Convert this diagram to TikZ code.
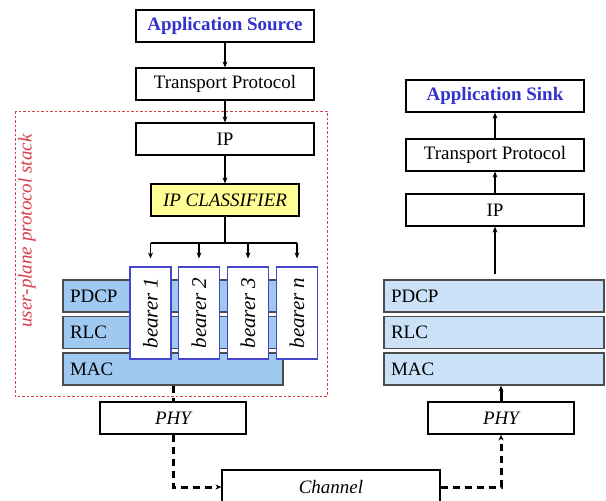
\documentclass[tikz,border=0pt]{standalone}
\usepackage{fontspec}
\setmainfont{Liberation Serif}
\usetikzlibrary{arrows.meta}
\definecolor{srcblue}{RGB}{51,51,204}
\definecolor{stackred}{RGB}{218,60,70}
\definecolor{layerdark}{RGB}{160,201,242}
\definecolor{layerlight}{RGB}{203,225,248}
\definecolor{clsyellow}{RGB}{255,255,150}
\definecolor{bearerblue}{RGB}{70,70,205}
\def\bH{32}
\begin{document}
\begin{tikzpicture}[x=1pt, y=-1pt, >={Stealth[length=6pt,width=5pt]},
    font=\fontsize{19pt}{22pt}\selectfont,
    box/.style={draw, line width=1.2pt, fill=white, minimum width=178pt, minimum height=\bH pt, inner sep=0pt},
    layer/.style={draw=black!70, line width=1.2pt, minimum height=\bH pt, text width=206pt, align=left, inner xsep=7pt, inner ysep=0pt},
    bearer/.style={draw=bearerblue, line width=1.2pt, fill=white, minimum width=92pt, minimum height=41pt, inner sep=0pt, rotate=90, font=\fontsize{21pt}{24pt}\selectfont\itshape},
    flow/.style={->, line width=1.3pt},
    air/.style={line width=3pt, dash pattern=on 7pt off 5pt}]
        \clip (0,0) rectangle (606,501);
        \fill[white] (0,0) rectangle (606,501);
        \draw[stackred, line width=1pt, dash pattern=on 2.5pt off 2pt] (15,111) rectangle (327,396);
        \node[rotate=90, text=stackred, font=\fontsize{19pt}{22pt}\selectfont\itshape] (stacklabel) at (27,231) {user-plane protocol stack};
        \node[box, text=srcblue, font=\fontsize{19pt}{22pt}\selectfont\bfseries] (src) at (225,26) {Application Source};
        \node[box] (tpL) at (225,84) {Transport Protocol};
        \node[box] (ipL) at (225,139) {IP};
        \node[box, fill=clsyellow, minimum width=148pt, font=\fontsize{19pt}{22pt}\selectfont\itshape] (cls) at (225,200) {IP CLASSIFIER};
        \coordinate (split) at (225,243);
        \node[layer, fill=layerdark] (pdcpL) at (173,296) {PDCP};
        \node[layer, fill=layerdark] (rlcL) at (173,332.5) {RLC};
        \node[layer, fill=layerdark] (macL) at (173,369) {MAC};
        \foreach \i/\x in {1/150.5, 2/199, 3/248, n/297} {
            \node[bearer] (b\i) at (\x,313) {bearer \i};
        }
        \node[box, minimum width=146pt, font=\fontsize{19pt}{22pt}\selectfont\itshape] (phyL) at (173,418) {PHY};
        \node[box, minimum width=218pt, minimum height=34pt, font=\fontsize{19pt}{22pt}\selectfont\itshape] (chan) at (331,487) {Channel};
        \node[box, text=srcblue, font=\fontsize{19pt}{22pt}\selectfont\bfseries] (sink) at (495,96) {Application Sink};
        \node[box] (tpR) at (495,155) {Transport Protocol};
        \node[box] (ipR) at (495,210) {IP};
        \node[layer, fill=layerlight] (pdcpR) at (494,296) {PDCP};
        \node[layer, fill=layerlight] (rlcR) at (494,332.5) {RLC};
        \node[layer, fill=layerlight] (macR) at (494,369) {MAC};
        \node[box, minimum width=146pt, font=\fontsize{19pt}{22pt}\selectfont\itshape] (phyR) at (501,418) {PHY};
        \draw[flow] (src) -- (tpL);
        \draw[flow] (tpL) -- (ipL);
        \draw[flow] (ipL) -- (cls);
        \draw[line width=1.3pt] (cls) -- (split);
        \draw[line width=1.3pt] (split -| b1) -- (split -| bn);
        \foreach \i in {1,2,3,n} {
            \draw[flow, shorten >=8pt] (split -| b\i) -- (b\i.east);
        }
        \draw[air] (macL) -- (phyL);
        \draw[air, ->] (phyL) |- (chan);
        \draw[air, ->] (chan) -| (phyR);
        \draw[line width=3pt, ->] (phyR) -- (phyR |- macR.south);
        \draw[flow, shorten <=5pt] (ipR |- pdcpR.north) -- (ipR);
        \draw[flow] (ipR) -- (tpR);
        \draw[flow] (tpR) -- (sink);
      \end{tikzpicture}
\end{document}
